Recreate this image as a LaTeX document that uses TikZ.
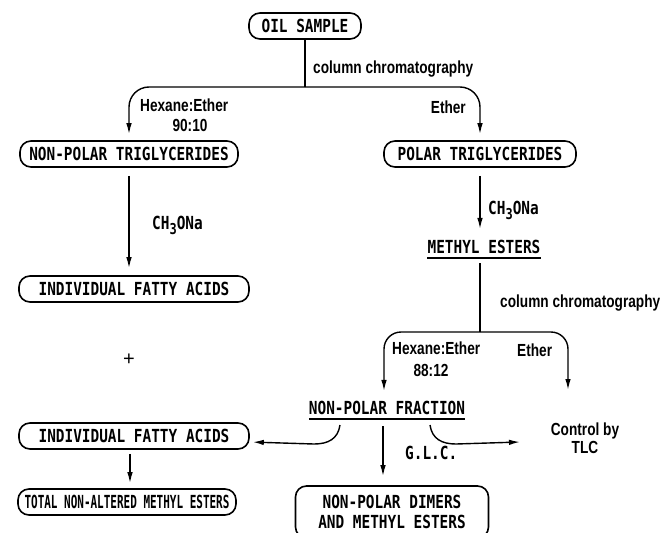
\documentclass[tikz,border=0pt]{standalone}
\usepackage{fontspec}
\setmainfont{Liberation Sans}
\newfontfamily\boxfont[FakeStretch=0.8]{DejaVu Sans Mono}
\newfontfamily\condfont[FakeStretch=0.61]{DejaVu Sans Mono}
\newfontfamily\labfont[FakeStretch=0.78]{Liberation Sans}
\usetikzlibrary{arrows.meta}
\tikzset{
  ln/.style={line width=1.4pt},
  arr/.style={ln, -{Latex[length=11pt,width=5.5pt]}},
  box/.style={draw, line width=1.6pt, rounded corners=11pt, minimum height=26pt,
    inner sep=0pt, font=\boxfont\bfseries\fontsize{18}{20}\selectfont},
  caps/.style={inner sep=0pt, font=\boxfont\bfseries\fontsize{18}{20}\selectfont},
  lab/.style={inner sep=0pt, font=\labfont\bfseries\fontsize{17.5}{18}\selectfont},
  uline/.style={line width=1.8pt},
}
\newcommand{\chform}{CH\raisebox{-5pt}{\fontsize{15}{15}\selectfont 3}ONa}
\begin{document}
\begin{tikzpicture}[x=1pt,y=-1pt]
\useasboundingbox (0,0) rectangle (665,533);
% nodes
\node[box, minimum width=112pt] (oil) at (305,26) {OIL SAMPLE};
\node[box, minimum width=218pt] (nptrig) at (129,154) {NON-POLAR TRIGLYCERIDES};
\node[box, minimum width=192pt] (ptrig) at (480,154) {POLAR TRIGLYCERIDES};
\node[box, minimum width=230pt] (ifa1) at (134,289) {INDIVIDUAL FATTY ACIDS};
\node[caps] (me) at (484,247) {METHYL ESTERS};
\node[caps] (npf) at (387,408) {NON-POLAR FRACTION};
\node[box, minimum width=230pt] (ifa2) at (134,436) {INDIVIDUAL FATTY ACIDS};
\node[box, minimum width=218pt, font=\condfont\bfseries\fontsize{18}{20}\selectfont] (total) at (127,502) {TOTAL NON-ALTERED METHYL ESTERS};
\node[box, align=center, minimum width=193pt, minimum height=52pt] (npd) at (392,512) {NON-POLAR DIMERS\\AND METHYL ESTERS};
\node[lab, align=center] (ctrl) at (585,438) {Control by\\TLC};
\node[inner sep=0pt, font=\fontsize{20}{20}\selectfont] (plus) at (129,360) {+};
% labels
\node[lab, anchor=west] (col1) at (313,69) {column chromatography};
\node[lab, anchor=west] (hex1) at (140,105) {Hexane:Ether};
\node[lab] (r1) at (190,125) {90:10};
\node[lab, anchor=east] (eth1) at (466,107) {Ether};
\node[caps, anchor=base west] (ch1) at (152,229) {\chform};
\node[caps, anchor=base west] (ch2) at (488,214) {\chform};
\node[lab, anchor=west] (col2) at (500,303) {column chromatography};
\node[lab, anchor=west] (hex2) at (392,348) {Hexane:Ether};
\node[lab] (r2) at (431,370) {88:12};
\node[lab, anchor=west] (eth2) at (517,350) {Ether};
\node[caps, anchor=west] (glc) at (405,453) {G.L.C.};
% underlines
\draw[uline] ([yshift=-4pt]me.south west) -- ([yshift=-4pt]me.south east);
\draw[uline] ([yshift=-4pt]npf.south west) -- ([yshift=-4pt]npf.south east);
% first split
\coordinate (s1) at (oil.south |- 0,87);
\draw[ln] (oil.south) -- (s1);
\draw[arr, rounded corners=20pt, shorten >=6pt] (s1) -| (nptrig.north);
\draw[arr, rounded corners=20pt, shorten >=6pt] (s1) -| (ptrig.north);
% transesterification
\draw[arr, shorten <=8pt, shorten >=7pt] (nptrig.south) -- (nptrig.south |- ifa1.north);
\draw[arr, shorten <=8pt, shorten >=11pt] (ptrig.south) -- (ptrig.south |- me.north);
% second split
\coordinate (s2) at (ptrig.south |- 0,332);
\draw[ln, shorten <=9pt] (ptrig.south |- me.south) -- (s2);
\draw[arr, rounded corners=17pt, shorten >=10pt] (s2) -| ([xshift=-3pt]npf.north);
\coordinate (eth) at (568,390);
\draw[arr, rounded corners=17pt] (s2) -| (eth);
% from non-polar fraction
\draw[arr, shorten >=3pt] ([xshift=-47pt,yshift=-10pt]npf.south) .. controls +(-2,14) and +(14,0) .. ++(-26,19) -- (ifa2.east |- 0,442);
\coordinate (tlcin) at (520,442);
\draw[arr] ([xshift=43pt,yshift=-10pt]npf.south) .. controls +(2,14) and +(-14,0) .. ++(26,19) -- (tlcin);
\draw[arr, shorten <=11pt, shorten >=9pt] ([xshift=-4pt]npf.south) -- ([xshift=-4pt]npf.south |- npd.north);
\draw[arr, shorten <=4pt, shorten >=5pt] ([xshift=-4pt]ifa2.south) -- ([xshift=-4pt]ifa2.south |- total.north);
\end{tikzpicture}
\end{document}
